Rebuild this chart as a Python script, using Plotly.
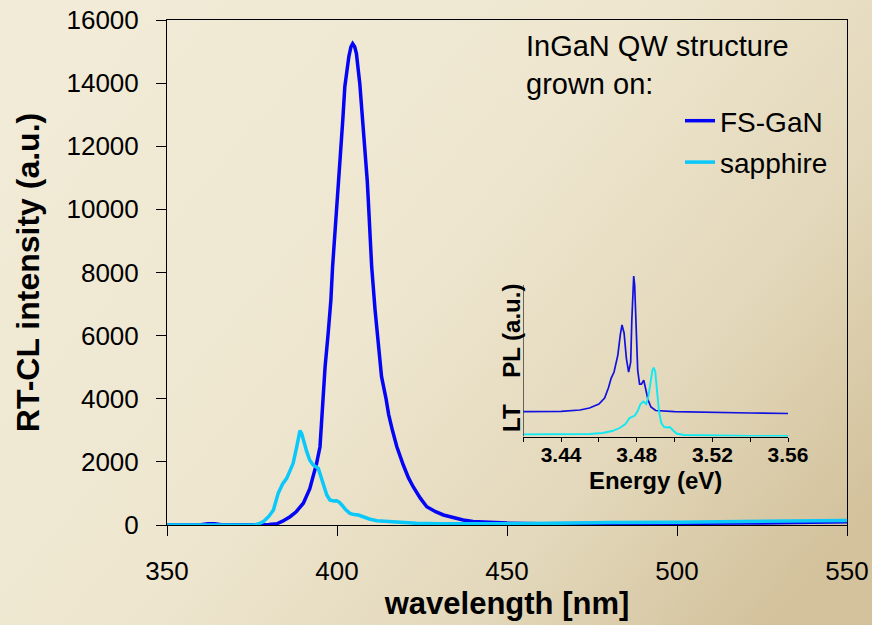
import base64
import plotly.graph_objects as go

# ---------------- data ----------------
# main spectra: RT-CL intensity vs wavelength (nm)
fs_gan_wl = [350, 355, 360, 362, 364, 366, 370, 375, 378.5, 380, 382.3, 384, 386.2, 388, 390.1,
             392, 393, 394, 395, 395.8, 396.5, 397.4, 398.2, 398.7, 399.4, 400.2, 400.7, 401.2,
             401.7, 402.3, 402.8, 403.5, 404.1, 404.6, 405.2, 405.7, 406.7, 407.6, 408.2,
             408.9, 409.2, 409.5, 410.2, 411.2, 412.2, 413.1, 414.4, 415.2, 416.3, 417.6, 419.5,
             421, 422.4, 424.5, 426.4, 429, 431.3, 434, 437.1, 440, 445, 450, 460, 470, 480, 490,
             500, 510, 520, 530, 540, 550]
fs_gan_int = [0, 0, 10, 40, 40, 10, 0, 0, 5, 15, 40, 120, 263, 420, 690,
              1150, 1530, 1950, 2480, 4064, 5015, 6073, 7128, 8183, 9241, 10296, 11140, 11985,
              12830, 13885, 14310, 14850, 15150, 15250, 15150, 14945, 13990, 12830, 11785,
              10900, 10300, 9558, 8183, 6811, 5756, 4698, 4014, 3500, 3000, 2480, 1900,
              1500, 1213, 850, 580, 420, 317, 230, 158, 110, 80, 60, 40, 40, 40, 45,
              50, 55, 60, 70, 80, 100]

sapphire_wl = [350, 360, 370, 375.7, 377, 378.3, 380, 381.3, 382.7, 384, 385.2, 386.2, 387.1,
               388.2, 389.1, 389.6, 390.3, 391.1, 392, 393, 394.5, 395.2, 396, 397, 397.9, 399,
               399.9, 400.7, 401.4, 402.6, 403.8, 405, 406.3, 407.7, 409.5, 411.7, 414, 417.6,
               420, 423.4, 430, 440, 450, 470, 480, 500, 520, 540, 550]
sapphire_int = [0, 0, 0, 0, 40, 105, 280, 475, 1004, 1300, 1479, 1700, 1954,
                2500, 2988, 2900, 2600, 2322, 2050, 1901, 1795, 1550, 1213, 950, 792, 760,
                770, 720, 634, 480, 370, 330, 317, 263, 190, 137, 115, 105,
                80, 53, 40, 35, 40, 60, 80, 90, 100, 120, 140]

# inset: low-temperature PL vs energy (eV), arbitrary units
lt_fs_e = [3.420, 3.440, 3.450, 3.455, 3.460, 3.463, 3.465, 3.4665, 3.468, 3.470, 3.4713, 3.4722,
           3.4733, 3.4745, 3.4757, 3.4768, 3.4774, 3.4780, 3.4784, 3.4789, 3.4796, 3.4805,
           3.4815, 3.4825, 3.4837, 3.4847, 3.486, 3.4875, 3.490, 3.500, 3.520, 3.540, 3.560]
lt_fs_pl = [0.150, 0.151, 0.159, 0.171, 0.195, 0.231, 0.291, 0.351, 0.387, 0.489, 0.610, 0.670,
            0.622, 0.471, 0.387, 0.447, 0.700, 0.910, 0.964, 0.910, 0.640, 0.399,
            0.315, 0.315, 0.339, 0.291, 0.219, 0.177, 0.156, 0.150, 0.144, 0.141, 0.138]

lt_sa_e = [3.420, 3.440, 3.455, 3.462, 3.467, 3.471, 3.474, 3.4762, 3.4775, 3.479, 3.4805, 3.482,
           3.4835, 3.485, 3.486, 3.4873, 3.4883, 3.489, 3.4898, 3.4908, 3.4918, 3.493, 3.4945,
           3.4962, 3.4975, 3.499, 3.501, 3.505, 3.520, 3.540, 3.560]
lt_sa_pl = [0.013, 0.012, 0.015, 0.021, 0.033, 0.051, 0.075, 0.111, 0.120, 0.126, 0.153, 0.195,
            0.210, 0.195, 0.231, 0.327, 0.399, 0.414, 0.387, 0.267, 0.147, 0.081, 0.057,
            0.054, 0.057, 0.039, 0.018, 0.009, 0.006, 0.004, 0.003]

main_xticks = [350, 400, 450, 500, 550]
main_yticks = [0, 2000, 4000, 6000, 8000, 10000, 12000, 14000, 16000]
inset_xticks = [3.44, 3.48, 3.52, 3.56]
inset_xtick_labels = ["3.44", "3.48", "3.52", "3.56"]

# ---------------- figure ----------------
W, H = 872, 625
L, R, T, B = 167, 25, 20, 100
FONT = "Liberation Sans, Arial, sans-serif"
BLUE = "#0505F5"
CYAN = "#0AC8FA"

fig = go.Figure()
fig.add_trace(go.Scatter(x=fs_gan_wl, y=fs_gan_int, mode="lines", name="FS-GaN",
                         legendgroup="a", line=dict(color=BLUE, width=3.5)))
fig.add_trace(go.Scatter(x=sapphire_wl, y=sapphire_int, mode="lines", name="sapphire",
                         legendgroup="b", line=dict(color=CYAN, width=3.5)))
fig.add_trace(go.Scatter(x=lt_fs_e, y=lt_fs_pl, mode="lines", showlegend=False,
                         xaxis="x2", yaxis="y2", line=dict(color="#1010E0", width=1.7)))
fig.add_trace(go.Scatter(x=lt_sa_e, y=lt_sa_pl, mode="lines", showlegend=False,
                         xaxis="x2", yaxis="y2", line=dict(color="#10E8F2", width=1.9)))

pw = W - L - R
ph = H - T - B
def px_x(p):
    return (p - L) / pw
def px_y(p):
    return (H - B - p) / ph

svg = ("<svg xmlns='http://www.w3.org/2000/svg' width='872' height='625' preserveAspectRatio='none'>"
       "<defs><linearGradient id='g' x1='0' y1='0.2' x2='1' y2='0.8'>"
       "<stop offset='0' stop-color='#F1EBD7'/>"
       "<stop offset='0.45' stop-color='#EEE6CF'/>"
       "<stop offset='0.75' stop-color='#E3D8BB'/>"
       "<stop offset='1' stop-color='#D3C29C'/>"
       "</linearGradient></defs><rect width='872' height='625' fill='url(#g)'/></svg>")
src = "data:image/svg+xml;base64," + base64.b64encode(svg.encode()).decode()

fig.update_layout(
    width=W, height=H,
    margin=dict(l=L, r=R, t=T, b=B, autoexpand=False),
    paper_bgcolor="#EDE5CE",
    plot_bgcolor="rgba(0,0,0,0)",
    font=dict(family=FONT, color="black"),
    images=[dict(source=src, xref="paper", yref="paper", x=px_x(0), y=px_y(0),
                 sizex=W / pw, sizey=H / ph, xanchor="left", yanchor="top",
                 sizing="stretch", layer="below")],
    xaxis=dict(range=[350, 550], tickvals=main_xticks, ticks="outside", ticklen=10,
               tickcolor="black", showline=True, linecolor="black", linewidth=1, mirror=True,
               showgrid=False, zeroline=False, tickfont=dict(size=26), automargin=False,
               ticklabelstandoff=13,
               title=dict(text="<b>wavelength [nm]</b>", font=dict(size=31), standoff=5)),
    yaxis=dict(range=[0, 16000], tickvals=main_yticks, tickformat="d", ticks="outside", ticklen=10,
               tickcolor="black", showline=True, linecolor="black", linewidth=1, mirror=True,
               showgrid=False, zeroline=False, tickfont=dict(size=26), automargin=False,
               ticklabelstandoff=12,
               title=dict(text="<b>RT-CL intensity (a.u.)</b>", font=dict(size=32), standoff=17)),
    xaxis2=dict(domain=[px_x(523.3), px_x(788)], anchor="y2", range=[3.42, 3.56],
                tickvals=inset_xticks, ticktext=inset_xtick_labels, ticks="outside", ticklen=4,
                tickcolor="black", showline=True, linecolor="black", linewidth=1,
                showgrid=False, zeroline=False, automargin=False,
                minor=dict(dtick=0.02, tick0=3.42, ticks="outside", ticklen=4, tickcolor="black"),
                tickfont=dict(size=21, weight="bold"), ticklabelstandoff=-5,
                title=dict(text="<b>Energy (eV)</b>", font=dict(size=24), standoff=7)),
    yaxis2=dict(domain=[px_y(436.5), px_y(270)], anchor="x2", range=[0, 1], automargin=False,
                showticklabels=False, ticks="", showline=False, showgrid=False, zeroline=False),
    shapes=[dict(type="line", xref="x2", yref="y2", x0=3.42, x1=3.42, y0=0, y1=0.91,
                 line=dict(color="black", width=1))],
    annotations=[
        dict(text="InGaN QW structure<br>grown on:", xref="paper", yref="paper",
             x=px_x(524), y=px_y(28), xanchor="left", yanchor="top", align="left",
             showarrow=False, font=dict(size=29)),
        dict(text="<b>LT\u00a0\u00a0\u00a0\u00a0PL (a.u.)</b>", xref="paper", yref="paper",
             x=px_x(512), y=px_y(358), xanchor="center", yanchor="middle", textangle=-90,
             showarrow=False, font=dict(size=24)),
    ],
    legend=dict(x=px_x(680), y=px_y(96), xanchor="left", yanchor="top",
                bgcolor="rgba(0,0,0,0)", borderwidth=0, font=dict(size=28),
                tracegroupgap=2, itemwidth=30),
)

fig.write_html("out.html", config={"displayModeBar": False},
               post_script="document.body.style.margin='0';")
